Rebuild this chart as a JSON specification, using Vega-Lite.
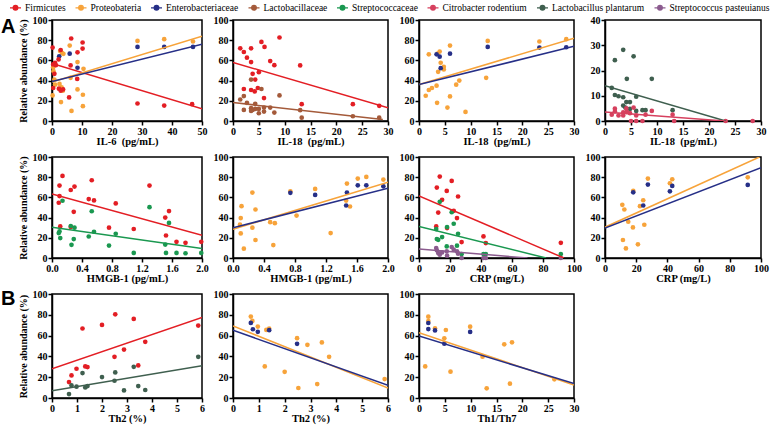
{
"$schema":"https://vega.github.io/schema/vega-lite/v6.json",
"padding":{"left":0,"top":1,"right":0,"bottom":0},
"background":"white",
"bounds":"flush",
"columns":4,
"spacing":{"row":36,"column":31},
"resolve":{"scale":{"color":"shared","x":"independent","y":"independent"},"legend":{"color":"shared"}},
"config":{
"view":{"stroke":"#000","strokeWidth":1.5},
"axis":{"domainColor":"#000","domainWidth":1.5,"tickColor":"#000","tickWidth":1.5,"tickSize":4,"grid":false,"labelFont":"Liberation Serif","labelFontWeight":"bold","labelFontSize":10,"labelColor":"#000","labelPadding":1,"titleFont":"Liberation Serif","titleFontWeight":"bold","titleFontSize":10.5,"titleColor":"#000"},
"axisX":{"labelFlush":false,"titlePadding":0},
"axisY":{"titlePadding":4,"titleFontSize":10},
"legend":{"labelFont":"Liberation Serif","labelFontSize":9.5,"labelColor":"#000","labelLimit":0}
},
"datasets":{
"pts":[
{"p":1,"s":"Proteobateria","x":28.5,"y":79.3},{"p":1,"s":"Proteobateria","x":37.4,"y":81},{"p":1,"s":"Proteobateria","x":47,"y":78.7},{"p":1,"s":"Proteobateria","x":5.9,"y":74.7},{"p":1,"s":"Proteobateria","x":2.7,"y":69.3},{"p":1,"s":"Proteobateria","x":3.3,"y":67.5},{"p":1,"s":"Proteobateria","x":3.8,"y":66.5},{"p":1,"s":"Proteobateria","x":8.5,"y":58.3},{"p":1,"s":"Proteobateria","x":0.4,"y":53.3},{"p":1,"s":"Proteobateria","x":10.5,"y":51.7},{"p":1,"s":"Proteobateria","x":0.5,"y":49.3},{"p":1,"s":"Proteobateria","x":0.8,"y":41},{"p":1,"s":"Proteobateria","x":6.2,"y":42.7},{"p":1,"s":"Proteobateria","x":1,"y":36},{"p":1,"s":"Proteobateria","x":2.5,"y":36.7},{"p":1,"s":"Proteobateria","x":3.2,"y":33.3},{"p":1,"s":"Proteobateria","x":3.6,"y":30},{"p":1,"s":"Proteobateria","x":8.5,"y":31.3},{"p":1,"s":"Proteobateria","x":0.2,"y":25.3},{"p":1,"s":"Proteobateria","x":10.3,"y":26},{"p":1,"s":"Proteobateria","x":3,"y":18.7},{"p":1,"s":"Proteobateria","x":10.3,"y":14.7},{"p":1,"s":"Proteobateria","x":6.5,"y":10},
{"p":1,"s":"Enterobacteriaceae","x":28.5,"y":73.3},{"p":1,"s":"Enterobacteriaceae","x":37.4,"y":73.3},{"p":1,"s":"Enterobacteriaceae","x":47,"y":73.3},{"p":1,"s":"Enterobacteriaceae","x":2.4,"y":64},{"p":1,"s":"Enterobacteriaceae","x":5.9,"y":66.7},{"p":1,"s":"Enterobacteriaceae","x":8.5,"y":52.7},
{"p":1,"s":"Firmicutes","x":0.2,"y":72.7},{"p":1,"s":"Firmicutes","x":6.4,"y":81.7},{"p":1,"s":"Firmicutes","x":10.2,"y":77.7},{"p":1,"s":"Firmicutes","x":10.2,"y":71.7},{"p":1,"s":"Firmicutes","x":2.9,"y":70.3},{"p":1,"s":"Firmicutes","x":8.5,"y":68},{"p":1,"s":"Firmicutes","x":2.2,"y":61},{"p":1,"s":"Firmicutes","x":1,"y":57.7},{"p":1,"s":"Firmicutes","x":0.4,"y":56},{"p":1,"s":"Firmicutes","x":1.3,"y":55.3},{"p":1,"s":"Firmicutes","x":6.2,"y":55},{"p":1,"s":"Firmicutes","x":0.8,"y":46.7},{"p":1,"s":"Firmicutes","x":8.4,"y":41.7},{"p":1,"s":"Firmicutes","x":2.3,"y":32},{"p":1,"s":"Firmicutes","x":3.7,"y":31.3},{"p":1,"s":"Firmicutes","x":0.4,"y":32.7},{"p":1,"s":"Firmicutes","x":2.9,"y":30},{"p":1,"s":"Firmicutes","x":5.7,"y":23.3},{"p":1,"s":"Firmicutes","x":28.5,"y":17.3},{"p":1,"s":"Firmicutes","x":37.4,"y":15.3},{"p":1,"s":"Firmicutes","x":46.7,"y":16.7},
{"p":2,"s":"Firmicutes","x":1.4,"y":72},{"p":2,"s":"Firmicutes","x":2.1,"y":68.3},{"p":2,"s":"Firmicutes","x":3.5,"y":72},{"p":2,"s":"Firmicutes","x":5.5,"y":78.3},{"p":2,"s":"Firmicutes","x":6.1,"y":73.3},{"p":2,"s":"Firmicutes","x":9,"y":82.7},{"p":2,"s":"Firmicutes","x":2.7,"y":62.7},{"p":2,"s":"Firmicutes","x":3.5,"y":58.3},{"p":2,"s":"Firmicutes","x":7.2,"y":59.3},{"p":2,"s":"Firmicutes","x":8,"y":55.3},{"p":2,"s":"Firmicutes","x":13,"y":55},{"p":2,"s":"Firmicutes","x":3.8,"y":46.7},{"p":2,"s":"Firmicutes","x":5,"y":48.3},{"p":2,"s":"Firmicutes","x":4.3,"y":41},{"p":2,"s":"Firmicutes","x":2.1,"y":31.7},{"p":2,"s":"Firmicutes","x":3.5,"y":30.7},{"p":2,"s":"Firmicutes","x":4.2,"y":29.3},{"p":2,"s":"Firmicutes","x":4.8,"y":32.7},{"p":2,"s":"Firmicutes","x":6,"y":22.7},{"p":2,"s":"Firmicutes","x":13.3,"y":16.7},{"p":2,"s":"Firmicutes","x":23.2,"y":16.7},{"p":2,"s":"Firmicutes","x":28.3,"y":15},
{"p":2,"s":"Lactobacillaceae","x":3.5,"y":41},{"p":2,"s":"Lactobacillaceae","x":5.5,"y":31.7},{"p":2,"s":"Lactobacillaceae","x":1.4,"y":21.3},{"p":2,"s":"Lactobacillaceae","x":2.1,"y":24.7},{"p":2,"s":"Lactobacillaceae","x":9,"y":25.3},{"p":2,"s":"Lactobacillaceae","x":2.7,"y":18},{"p":2,"s":"Lactobacillaceae","x":4.3,"y":17},{"p":2,"s":"Lactobacillaceae","x":2.1,"y":11},{"p":2,"s":"Lactobacillaceae","x":3.5,"y":12.7},{"p":2,"s":"Lactobacillaceae","x":3.8,"y":11},{"p":2,"s":"Lactobacillaceae","x":4.3,"y":12},{"p":2,"s":"Lactobacillaceae","x":5,"y":12},{"p":2,"s":"Lactobacillaceae","x":6,"y":13.3},{"p":2,"s":"Lactobacillaceae","x":7.2,"y":13.3},{"p":2,"s":"Lactobacillaceae","x":3.5,"y":10},{"p":2,"s":"Lactobacillaceae","x":5,"y":7.7},{"p":2,"s":"Lactobacillaceae","x":6,"y":9.3},{"p":2,"s":"Lactobacillaceae","x":8,"y":8.3},{"p":2,"s":"Lactobacillaceae","x":13,"y":10.7},{"p":2,"s":"Lactobacillaceae","x":13.3,"y":3.3},{"p":2,"s":"Lactobacillaceae","x":23.2,"y":4.7},{"p":2,"s":"Lactobacillaceae","x":28.3,"y":3.3},
{"p":3,"s":"Proteobateria","x":1.3,"y":25},{"p":3,"s":"Proteobateria","x":1.9,"y":66},{"p":3,"s":"Proteobateria","x":1.9,"y":30.7},{"p":3,"s":"Proteobateria","x":2.5,"y":32.7},{"p":3,"s":"Proteobateria","x":3.4,"y":35},{"p":3,"s":"Proteobateria","x":3.5,"y":18},{"p":3,"s":"Proteobateria","x":3.6,"y":66.7},{"p":3,"s":"Proteobateria","x":3.7,"y":48.7},{"p":3,"s":"Proteobateria","x":4,"y":68.7},{"p":3,"s":"Proteobateria","x":4.2,"y":57.7},{"p":3,"s":"Proteobateria","x":4.8,"y":53.7},{"p":3,"s":"Proteobateria","x":4.8,"y":51},{"p":3,"s":"Proteobateria","x":5.5,"y":13.3},{"p":3,"s":"Proteobateria","x":6,"y":74.7},{"p":3,"s":"Proteobateria","x":6,"y":24.3},{"p":3,"s":"Proteobateria","x":7.2,"y":36},{"p":3,"s":"Proteobateria","x":7.8,"y":40},{"p":3,"s":"Proteobateria","x":9,"y":9},{"p":3,"s":"Proteobateria","x":13,"y":42.7},{"p":3,"s":"Proteobateria","x":13.3,"y":79.3},{"p":3,"s":"Proteobateria","x":23.3,"y":78.7},{"p":3,"s":"Proteobateria","x":28.5,"y":81},
{"p":3,"s":"Enterobacteriaceae","x":3.4,"y":66},{"p":3,"s":"Enterobacteriaceae","x":4,"y":63.7},{"p":3,"s":"Enterobacteriaceae","x":4.2,"y":52.3},{"p":3,"s":"Enterobacteriaceae","x":6,"y":66.7},{"p":3,"s":"Enterobacteriaceae","x":13.3,"y":73.3},{"p":3,"s":"Enterobacteriaceae","x":23.3,"y":72.7},{"p":3,"s":"Enterobacteriaceae","x":28.5,"y":73},
{"p":4,"s":"Lactobacillus plantarum","x":3.5,"y":28.2},{"p":4,"s":"Lactobacillus plantarum","x":1.9,"y":24.1},{"p":4,"s":"Lactobacillus plantarum","x":5.5,"y":25.6},{"p":4,"s":"Lactobacillus plantarum","x":4.2,"y":16.7},{"p":4,"s":"Lactobacillus plantarum","x":9,"y":16.7},{"p":4,"s":"Lactobacillus plantarum","x":1.3,"y":13.1},{"p":4,"s":"Lactobacillus plantarum","x":1.9,"y":10.3},{"p":4,"s":"Lactobacillus plantarum","x":2.6,"y":9.8},{"p":4,"s":"Lactobacillus plantarum","x":3.5,"y":9.4},{"p":4,"s":"Lactobacillus plantarum","x":6,"y":9.6},{"p":4,"s":"Lactobacillus plantarum","x":4.1,"y":7.5},{"p":4,"s":"Lactobacillus plantarum","x":4.8,"y":7.5},{"p":4,"s":"Lactobacillus plantarum","x":3.5,"y":6.1},{"p":4,"s":"Lactobacillus plantarum","x":3.9,"y":5.3},{"p":4,"s":"Lactobacillus plantarum","x":6,"y":4},{"p":4,"s":"Lactobacillus plantarum","x":7.2,"y":4.3},{"p":4,"s":"Lactobacillus plantarum","x":7.8,"y":4.3},{"p":4,"s":"Lactobacillus plantarum","x":13,"y":4.3},{"p":4,"s":"Lactobacillus plantarum","x":4.8,"y":4.8},
{"p":4,"s":"Citrobacter rodentium","x":1.3,"y":2.5},{"p":4,"s":"Citrobacter rodentium","x":1.9,"y":4.9},{"p":4,"s":"Citrobacter rodentium","x":1.9,"y":3.8},{"p":4,"s":"Citrobacter rodentium","x":2.6,"y":2.2},{"p":4,"s":"Citrobacter rodentium","x":3.5,"y":3.4},{"p":4,"s":"Citrobacter rodentium","x":3.5,"y":2.2},{"p":4,"s":"Citrobacter rodentium","x":4.1,"y":5},{"p":4,"s":"Citrobacter rodentium","x":4.2,"y":3.6},{"p":4,"s":"Citrobacter rodentium","x":4.8,"y":3.1},{"p":4,"s":"Citrobacter rodentium","x":5,"y":0},{"p":4,"s":"Citrobacter rodentium","x":5.5,"y":5.3},{"p":4,"s":"Citrobacter rodentium","x":6,"y":2.2},{"p":4,"s":"Citrobacter rodentium","x":6,"y":0},{"p":4,"s":"Citrobacter rodentium","x":7.2,"y":0},{"p":4,"s":"Citrobacter rodentium","x":7.8,"y":2.5},{"p":4,"s":"Citrobacter rodentium","x":9,"y":4},{"p":4,"s":"Citrobacter rodentium","x":13,"y":2.5},{"p":4,"s":"Citrobacter rodentium","x":13.3,"y":0},{"p":4,"s":"Citrobacter rodentium","x":23.2,"y":0},{"p":4,"s":"Citrobacter rodentium","x":28.4,"y":0},
{"p":5,"s":"Firmicutes","x":0.14,"y":81.3},{"p":5,"s":"Firmicutes","x":0.1,"y":71.7},{"p":5,"s":"Firmicutes","x":0.1,"y":61.3},{"p":5,"s":"Firmicutes","x":0.09,"y":54.7},{"p":5,"s":"Firmicutes","x":0.25,"y":67.3},{"p":5,"s":"Firmicutes","x":0.3,"y":70.7},{"p":5,"s":"Firmicutes","x":0.29,"y":45.7},{"p":5,"s":"Firmicutes","x":0.11,"y":31.3},{"p":5,"s":"Firmicutes","x":0.25,"y":30.7},{"p":5,"s":"Firmicutes","x":0.53,"y":77},{"p":5,"s":"Firmicutes","x":0.49,"y":58.3},{"p":5,"s":"Firmicutes","x":0.56,"y":57},{"p":5,"s":"Firmicutes","x":0.85,"y":54},{"p":5,"s":"Firmicutes","x":0.76,"y":30},{"p":5,"s":"Firmicutes","x":1.09,"y":28.7},{"p":5,"s":"Firmicutes","x":1.3,"y":71.7},{"p":5,"s":"Firmicutes","x":1.51,"y":40},{"p":5,"s":"Firmicutes","x":1.56,"y":46.5},{"p":5,"s":"Firmicutes","x":1.52,"y":22.3},{"p":5,"s":"Firmicutes","x":1.66,"y":16},{"p":5,"s":"Firmicutes","x":1.78,"y":15},{"p":5,"s":"Firmicutes","x":1.99,"y":16},
{"p":5,"s":"Streptococcaceae","x":0.14,"y":56.7},{"p":5,"s":"Streptococcaceae","x":0.1,"y":26.3},{"p":5,"s":"Streptococcaceae","x":0.09,"y":24.7},{"p":5,"s":"Streptococcaceae","x":0.11,"y":19.7},{"p":5,"s":"Streptococcaceae","x":0.25,"y":31.7},{"p":5,"s":"Streptococcaceae","x":0.3,"y":30},{"p":5,"s":"Streptococcaceae","x":0.29,"y":18.7},{"p":5,"s":"Streptococcaceae","x":0.26,"y":13},{"p":5,"s":"Streptococcaceae","x":0.49,"y":21.3},{"p":5,"s":"Streptococcaceae","x":0.53,"y":46.3},{"p":5,"s":"Streptococcaceae","x":0.56,"y":26},{"p":5,"s":"Streptococcaceae","x":0.76,"y":12.3},{"p":5,"s":"Streptococcaceae","x":0.85,"y":24},{"p":5,"s":"Streptococcaceae","x":1.09,"y":5},{"p":5,"s":"Streptococcaceae","x":1.3,"y":50.3},{"p":5,"s":"Streptococcaceae","x":1.51,"y":13.3},{"p":5,"s":"Streptococcaceae","x":1.56,"y":34.7},{"p":5,"s":"Streptococcaceae","x":1.52,"y":5},{"p":5,"s":"Streptococcaceae","x":1.66,"y":5},{"p":5,"s":"Streptococcaceae","x":1.78,"y":4.7},{"p":5,"s":"Streptococcaceae","x":1.99,"y":5},
{"p":6,"s":"Proteobateria","x":0.1,"y":39.5},{"p":6,"s":"Proteobateria","x":0.09,"y":33},{"p":6,"s":"Proteobateria","x":0.1,"y":24.3},{"p":6,"s":"Proteobateria","x":0.11,"y":51.3},{"p":6,"s":"Proteobateria","x":0.14,"y":9.2},{"p":6,"s":"Proteobateria","x":0.25,"y":64.8},{"p":6,"s":"Proteobateria","x":0.25,"y":30},{"p":6,"s":"Proteobateria","x":0.29,"y":48},{"p":6,"s":"Proteobateria","x":0.29,"y":17.8},{"p":6,"s":"Proteobateria","x":0.48,"y":35.5},{"p":6,"s":"Proteobateria","x":0.52,"y":12.8},{"p":6,"s":"Proteobateria","x":0.54,"y":34.5},{"p":6,"s":"Proteobateria","x":0.74,"y":66},{"p":6,"s":"Proteobateria","x":0.82,"y":42},{"p":6,"s":"Proteobateria","x":1.06,"y":68.4},{"p":6,"s":"Proteobateria","x":1.26,"y":24.7},{"p":6,"s":"Proteobateria","x":1.46,"y":56.9},{"p":6,"s":"Proteobateria","x":1.47,"y":73.7},{"p":6,"s":"Proteobateria","x":1.51,"y":51},{"p":6,"s":"Proteobateria","x":1.61,"y":78.6},{"p":6,"s":"Proteobateria","x":1.72,"y":80.3},{"p":6,"s":"Proteobateria","x":1.94,"y":77.6},
{"p":6,"s":"Enterobacteriaceae","x":0.74,"y":64.5},{"p":6,"s":"Enterobacteriaceae","x":1.06,"y":62.5},{"p":6,"s":"Enterobacteriaceae","x":1.47,"y":64.8},{"p":6,"s":"Enterobacteriaceae","x":1.46,"y":52},{"p":6,"s":"Enterobacteriaceae","x":1.61,"y":72},{"p":6,"s":"Enterobacteriaceae","x":1.72,"y":72},{"p":6,"s":"Enterobacteriaceae","x":1.94,"y":71},
{"p":7,"s":"Firmicutes","x":13.4,"y":80.6},{"p":7,"s":"Firmicutes","x":21.1,"y":76.3},{"p":7,"s":"Firmicutes","x":11.5,"y":69.7},{"p":7,"s":"Firmicutes","x":17.9,"y":66.4},{"p":7,"s":"Firmicutes","x":25.2,"y":60.9},{"p":7,"s":"Firmicutes","x":14.9,"y":57.6},{"p":7,"s":"Firmicutes","x":12.4,"y":45},{"p":7,"s":"Firmicutes","x":22.4,"y":46.7},{"p":7,"s":"Firmicutes","x":24.5,"y":39.5},{"p":7,"s":"Firmicutes","x":11.1,"y":31.3},{"p":7,"s":"Firmicutes","x":18.1,"y":29.6},{"p":7,"s":"Firmicutes","x":41.6,"y":21.4},{"p":7,"s":"Firmicutes","x":27.5,"y":15.8},{"p":7,"s":"Firmicutes","x":43.1,"y":14.8},{"p":7,"s":"Firmicutes","x":91.5,"y":15},
{"p":7,"s":"Streptococcaceae","x":13.4,"y":55.6},{"p":7,"s":"Streptococcaceae","x":21.1,"y":45.4},{"p":7,"s":"Streptococcaceae","x":22.4,"y":33.9},{"p":7,"s":"Streptococcaceae","x":25.2,"y":24},{"p":7,"s":"Streptococcaceae","x":11.1,"y":28.6},{"p":7,"s":"Streptococcaceae","x":18.1,"y":30.6},{"p":7,"s":"Streptococcaceae","x":11.5,"y":18.8},{"p":7,"s":"Streptococcaceae","x":12.4,"y":18},{"p":7,"s":"Streptococcaceae","x":14.9,"y":20.7},{"p":7,"s":"Streptococcaceae","x":17.9,"y":11.5},{"p":7,"s":"Streptococcaceae","x":24.5,"y":12.2},{"p":7,"s":"Streptococcaceae","x":27.5,"y":3.9},{"p":7,"s":"Streptococcaceae","x":41.6,"y":3.9},{"p":7,"s":"Streptococcaceae","x":43.1,"y":3.9},{"p":7,"s":"Streptococcaceae","x":91.5,"y":3.9},
{"p":7,"s":"Streptococcus pasteuianus","x":11.1,"y":9.9},{"p":7,"s":"Streptococcus pasteuianus","x":11.5,"y":7.6},{"p":7,"s":"Streptococcus pasteuianus","x":12.4,"y":4.9},{"p":7,"s":"Streptococcus pasteuianus","x":13.4,"y":3.3},{"p":7,"s":"Streptococcus pasteuianus","x":14.9,"y":5.5},{"p":7,"s":"Streptococcus pasteuianus","x":17.9,"y":6.6},{"p":7,"s":"Streptococcus pasteuianus","x":18.1,"y":2.3},{"p":7,"s":"Streptococcus pasteuianus","x":21.1,"y":10.9},{"p":7,"s":"Streptococcus pasteuianus","x":22.4,"y":8.2},{"p":7,"s":"Streptococcus pasteuianus","x":24.5,"y":6.6},{"p":7,"s":"Streptococcus pasteuianus","x":25.2,"y":4.3},{"p":7,"s":"Streptococcus pasteuianus","x":27.5,"y":0},{"p":7,"s":"Streptococcus pasteuianus","x":41.6,"y":0},{"p":7,"s":"Streptococcus pasteuianus","x":43.1,"y":0},{"p":7,"s":"Streptococcus pasteuianus","x":91.5,"y":0},
{"p":8,"s":"Proteobateria","x":11.1,"y":52.6},{"p":8,"s":"Proteobateria","x":12.4,"y":48},{"p":8,"s":"Proteobateria","x":11.5,"y":17.8},{"p":8,"s":"Proteobateria","x":13.4,"y":9.5},{"p":8,"s":"Proteobateria","x":14.9,"y":35.9},{"p":8,"s":"Proteobateria","x":17.9,"y":30.3},{"p":8,"s":"Proteobateria","x":18.1,"y":66.4},{"p":8,"s":"Proteobateria","x":21.1,"y":13.5},{"p":8,"s":"Proteobateria","x":22.4,"y":51.3},{"p":8,"s":"Proteobateria","x":24.5,"y":57.2},{"p":8,"s":"Proteobateria","x":25.2,"y":32.9},{"p":8,"s":"Proteobateria","x":27.5,"y":78.6},{"p":8,"s":"Proteobateria","x":41.6,"y":74},{"p":8,"s":"Proteobateria","x":43.1,"y":78},{"p":8,"s":"Proteobateria","x":91.5,"y":79.9},
{"p":8,"s":"Enterobacteriaceae","x":18.1,"y":65},{"p":8,"s":"Enterobacteriaceae","x":24.5,"y":52},{"p":8,"s":"Enterobacteriaceae","x":27.5,"y":72.7},{"p":8,"s":"Enterobacteriaceae","x":41.6,"y":66},{"p":8,"s":"Enterobacteriaceae","x":43.1,"y":71.4},{"p":8,"s":"Enterobacteriaceae","x":91.5,"y":72.4},
{"p":9,"s":"Firmicutes","x":2.53,"y":80.5},{"p":9,"s":"Firmicutes","x":3.27,"y":76},{"p":9,"s":"Firmicutes","x":1.22,"y":66.8},{"p":9,"s":"Firmicutes","x":2.0,"y":70.3},{"p":9,"s":"Firmicutes","x":3.73,"y":54},{"p":9,"s":"Firmicutes","x":2.88,"y":46.6},{"p":9,"s":"Firmicutes","x":2.5,"y":39.6},{"p":9,"s":"Firmicutes","x":1.33,"y":30.4},{"p":9,"s":"Firmicutes","x":1.42,"y":29.7},{"p":9,"s":"Firmicutes","x":3.45,"y":31.3},{"p":9,"s":"Firmicutes","x":0.68,"y":15.3},{"p":9,"s":"Firmicutes","x":0.78,"y":21.7},{"p":9,"s":"Firmicutes","x":0.98,"y":28.1},{"p":9,"s":"Firmicutes","x":5.85,"y":69.6},
{"p":9,"s":"Lactobacillus plantarum","x":1.22,"y":24},{"p":9,"s":"Lactobacillus plantarum","x":2.0,"y":20.1},{"p":9,"s":"Lactobacillus plantarum","x":2.53,"y":24.6},{"p":9,"s":"Lactobacillus plantarum","x":2.5,"y":16.6},{"p":9,"s":"Lactobacillus plantarum","x":3.27,"y":30},{"p":9,"s":"Lactobacillus plantarum","x":0.78,"y":12.1},{"p":9,"s":"Lactobacillus plantarum","x":0.98,"y":10.9},{"p":9,"s":"Lactobacillus plantarum","x":1.33,"y":10.2},{"p":9,"s":"Lactobacillus plantarum","x":1.42,"y":11.5},{"p":9,"s":"Lactobacillus plantarum","x":0.68,"y":3.8},{"p":9,"s":"Lactobacillus plantarum","x":2.88,"y":7.3},{"p":9,"s":"Lactobacillus plantarum","x":3.45,"y":11.5},{"p":9,"s":"Lactobacillus plantarum","x":3.73,"y":7.7},{"p":9,"s":"Lactobacillus plantarum","x":5.85,"y":39.6},
{"p":10,"s":"Proteobateria","x":0.69,"y":78.3},{"p":10,"s":"Proteobateria","x":0.75,"y":74.1},{"p":10,"s":"Proteobateria","x":0.96,"y":68.7},{"p":10,"s":"Proteobateria","x":1.29,"y":65.5},{"p":10,"s":"Proteobateria","x":1.4,"y":66.8},{"p":10,"s":"Proteobateria","x":1.23,"y":30.4},{"p":10,"s":"Proteobateria","x":2.0,"y":25.2},{"p":10,"s":"Proteobateria","x":2.48,"y":57.5},{"p":10,"s":"Proteobateria","x":2.53,"y":9.6},{"p":10,"s":"Proteobateria","x":2.88,"y":51.1},{"p":10,"s":"Proteobateria","x":3.26,"y":13.4},{"p":10,"s":"Proteobateria","x":3.44,"y":53.4},{"p":10,"s":"Proteobateria","x":3.72,"y":39.6},{"p":10,"s":"Proteobateria","x":5.87,"y":18.2},
{"p":10,"s":"Enterobacteriaceae","x":0.69,"y":72.2},{"p":10,"s":"Enterobacteriaceae","x":0.77,"y":66.1},{"p":10,"s":"Enterobacteriaceae","x":0.96,"y":63.6},{"p":10,"s":"Enterobacteriaceae","x":1.4,"y":65.2},{"p":10,"s":"Enterobacteriaceae","x":2.48,"y":52.1},
{"p":11,"s":"Proteobateria","x":1.8,"y":78.2},{"p":11,"s":"Proteobateria","x":1.8,"y":74},{"p":11,"s":"Proteobateria","x":3.1,"y":67},{"p":11,"s":"Proteobateria","x":5.2,"y":65.4},{"p":11,"s":"Proteobateria","x":4.9,"y":57.4},{"p":11,"s":"Proteobateria","x":9.9,"y":68.6},{"p":11,"s":"Proteobateria","x":1.2,"y":30.4},{"p":11,"s":"Proteobateria","x":6.1,"y":25.3},{"p":11,"s":"Proteobateria","x":12.3,"y":39.7},{"p":11,"s":"Proteobateria","x":13.1,"y":9.3},{"p":11,"s":"Proteobateria","x":16.5,"y":51.6},{"p":11,"s":"Proteobateria","x":18,"y":53.5},{"p":11,"s":"Proteobateria","x":17.6,"y":13.8},{"p":11,"s":"Proteobateria","x":26.2,"y":18},
{"p":11,"s":"Enterobacteriaceae","x":1.8,"y":72.1},{"p":11,"s":"Enterobacteriaceae","x":1.8,"y":66.3},{"p":11,"s":"Enterobacteriaceae","x":3.1,"y":65},{"p":11,"s":"Enterobacteriaceae","x":4.9,"y":52.2},{"p":11,"s":"Enterobacteriaceae","x":9.9,"y":63.5}
],
"lns":[
{"p":1,"s":"Firmicutes","x":0,"y":57},{"p":1,"s":"Firmicutes","x":50,"y":12},{"p":1,"s":"Proteobateria","x":0,"y":38.5},{"p":1,"s":"Proteobateria","x":50,"y":84},{"p":1,"s":"Enterobacteriaceae","x":0,"y":39},{"p":1,"s":"Enterobacteriaceae","x":50,"y":76},
{"p":2,"s":"Firmicutes","x":0,"y":58},{"p":2,"s":"Firmicutes","x":30,"y":13},{"p":2,"s":"Lactobacillaceae","x":0,"y":18.3},{"p":2,"s":"Lactobacillaceae","x":29,"y":1.5},
{"p":3,"s":"Proteobateria","x":0,"y":36},{"p":3,"s":"Proteobateria","x":30,"y":82},{"p":3,"s":"Enterobacteriaceae","x":0,"y":36},{"p":3,"s":"Enterobacteriaceae","x":30,"y":74},
{"p":4,"s":"Lactobacillus plantarum","x":0,"y":14},{"p":4,"s":"Lactobacillus plantarum","x":23.2,"y":0},{"p":4,"s":"Citrobacter rodentium","x":0,"y":3.6},{"p":4,"s":"Citrobacter rodentium","x":23,"y":0},
{"p":5,"s":"Firmicutes","x":0,"y":63.5},{"p":5,"s":"Firmicutes","x":2,"y":22.5},{"p":5,"s":"Streptococcaceae","x":0,"y":30.5},{"p":5,"s":"Streptococcaceae","x":2,"y":9.5},
{"p":6,"s":"Proteobateria","x":0,"y":28.5},{"p":6,"s":"Proteobateria","x":2,"y":75},{"p":6,"s":"Enterobacteriaceae","x":0,"y":30},{"p":6,"s":"Enterobacteriaceae","x":2,"y":69},
{"p":7,"s":"Firmicutes","x":0,"y":61.5},{"p":7,"s":"Firmicutes","x":93.5,"y":0},{"p":7,"s":"Streptococcaceae","x":0,"y":31.3},{"p":7,"s":"Streptococcaceae","x":82,"y":0},{"p":7,"s":"Streptococcus pasteuianus","x":0,"y":8.9},{"p":7,"s":"Streptococcus pasteuianus","x":70,"y":0},
{"p":8,"s":"Proteobateria","x":0,"y":30.5},{"p":8,"s":"Proteobateria","x":99,"y":100},{"p":8,"s":"Enterobacteriaceae","x":0,"y":29.6},{"p":8,"s":"Enterobacteriaceae","x":100,"y":89.5},
{"p":9,"s":"Firmicutes","x":0,"y":28},{"p":9,"s":"Firmicutes","x":6,"y":77.5},{"p":9,"s":"Lactobacillus plantarum","x":0,"y":7},{"p":9,"s":"Lactobacillus plantarum","x":6,"y":31},
{"p":10,"s":"Proteobateria","x":0,"y":69.3},{"p":10,"s":"Proteobateria","x":6,"y":9.6},{"p":10,"s":"Enterobacteriaceae","x":0,"y":65.2},{"p":10,"s":"Enterobacteriaceae","x":6,"y":12.1},
{"p":11,"s":"Proteobateria","x":0,"y":62.8},{"p":11,"s":"Proteobateria","x":30,"y":12.5},{"p":11,"s":"Enterobacteriaceae","x":0,"y":59.6},{"p":11,"s":"Enterobacteriaceae","x":30,"y":13.8}
]
},
"concat":[
{"width":150,"height":101,
"title":{"text":"A","anchor":"start","frame":"group","align":"left","baseline":"alphabetic","dx":-51,"dy":38,"offset":0,"font":"Liberation Sans","fontSize":20,"fontWeight":"bold","color":"#000"},
"layer":[
{"data":{"name":"pts"},"transform":[{"filter":"datum.p==1"}],"mark":{"type":"circle","size":22,"opacity":1},
"encoding":{"x":{"field":"x","type":"quantitative","scale":{"domain":[0,50]},"axis":{"values":[0,10,20,30,40,50],"title":"IL-6\u00a0 (pg/mL)"}},"y":{"field":"y","type":"quantitative","scale":{"domain":[0,100]},"axis":{"values":[0,20,40,60,80,100],"title":"Relative abundance (%)"}},
"color":{"field":"s","type":"nominal","scale":{"domain":["Firmicutes","Proteobateria","Enterobacteriaceae","Lactobacillaceae","Streptococcaceae","Citrobacter rodentium","Lactobacillus plantarum","Streptococcus pasteuianus"],"range":["#e31e24","#f7a33a","#262f87","#a45a3a","#1a9850","#d6405e","#3f5f4f","#8b5b8e"]},
"legend":{"title":null,"orient":"none","legendX":-43,"legendY":-19,"direction":"horizontal","columns":8,"columnPadding":6.5,"labelOffset":3,"labelFont":"Liberation Serif","labelFontSize":9.5,"labelColor":"#000","labelLimit":0,"symbolType":"M-1,0L1,0M-0.42,0A0.42,0.42,0,1,0,0.42,0A0.42,0.42,0,1,0,-0.42,0Z","symbolSize":121,"symbolStrokeWidth":1.3,
"encode":{"symbols":{"shape":{"value":"M-1,0L1,0M-0.42,0A0.42,0.42,0,1,0,0.42,0A0.42,0.42,0,1,0,-0.42,0Z"},"size":{"value":121},"strokeWidth":{"value":1.3},"stroke":{"scale":"color","field":"value"},"fill":{"scale":"color","field":"value"},"opacity":{"value":1}},"labels":{"font":{"value":"Liberation Serif"},"fontSize":{"value":9.5},"fill":{"value":"#000"},"fontStyle":{"signal":"indexof(['Citrobacter rodentium','Lactobacillus plantarum','Streptococcus pasteuianus'], datum.value) >= 0 ? 'italic' : 'normal'"}}}}}}},
{"data":{"name":"lns"},"transform":[{"filter":"datum.p==1"}],"mark":{"type":"line","strokeWidth":1.5,"clip":true},
"encoding":{"x":{"field":"x","type":"quantitative","scale":{"domain":[0,50]},"axis":{"values":[0,10,20,30,40,50],"title":"IL-6\u00a0 (pg/mL)"}},"y":{"field":"y","type":"quantitative","scale":{"domain":[0,100]},"axis":{"values":[0,20,40,60,80,100],"title":"Relative abundance (%)"}},
"color":{"field":"s","type":"nominal","scale":{"domain":["Firmicutes","Proteobateria","Enterobacteriaceae","Lactobacillaceae","Streptococcaceae","Citrobacter rodentium","Lactobacillus plantarum","Streptococcus pasteuianus"],"range":["#e31e24","#f7a33a","#262f87","#a45a3a","#1a9850","#d6405e","#3f5f4f","#8b5b8e"]},"legend":null}}}
]},
{"width":155,"height":101,"layer":[
{"data":{"name":"pts"},"transform":[{"filter":"datum.p==2"}],"mark":{"type":"circle","size":22,"opacity":1},
"encoding":{"x":{"field":"x","type":"quantitative","scale":{"domain":[0,30]},"axis":{"values":[0,5,10,15,20,25,30],"title":"IL-18\u00a0 (pg/mL)"}},"y":{"field":"y","type":"quantitative","scale":{"domain":[0,100]},"axis":{"values":[0,20,40,60,80,100],"title":null}},
"color":{"field":"s","type":"nominal","scale":{"domain":["Firmicutes","Proteobateria","Enterobacteriaceae","Lactobacillaceae","Streptococcaceae","Citrobacter rodentium","Lactobacillus plantarum","Streptococcus pasteuianus"],"range":["#e31e24","#f7a33a","#262f87","#a45a3a","#1a9850","#d6405e","#3f5f4f","#8b5b8e"]},"legend":null}}},
{"data":{"name":"lns"},"transform":[{"filter":"datum.p==2"}],"mark":{"type":"line","strokeWidth":1.5,"clip":true},
"encoding":{"x":{"field":"x","type":"quantitative","scale":{"domain":[0,30]},"axis":{"values":[0,5,10,15,20,25,30],"title":"IL-18\u00a0 (pg/mL)"}},"y":{"field":"y","type":"quantitative","scale":{"domain":[0,100]},"axis":{"values":[0,20,40,60,80,100],"title":null}},
"color":{"field":"s","type":"nominal","scale":{"domain":["Firmicutes","Proteobateria","Enterobacteriaceae","Lactobacillaceae","Streptococcaceae","Citrobacter rodentium","Lactobacillus plantarum","Streptococcus pasteuianus"],"range":["#e31e24","#f7a33a","#262f87","#a45a3a","#1a9850","#d6405e","#3f5f4f","#8b5b8e"]},"legend":null}}}
]},
{"width":155,"height":101,"layer":[
{"data":{"name":"pts"},"transform":[{"filter":"datum.p==3"}],"mark":{"type":"circle","size":22,"opacity":1},
"encoding":{"x":{"field":"x","type":"quantitative","scale":{"domain":[0,30]},"axis":{"values":[0,5,10,15,20,25,30],"title":"IL-18\u00a0 (pg/mL)"}},"y":{"field":"y","type":"quantitative","scale":{"domain":[0,100]},"axis":{"values":[0,20,40,60,80,100],"title":null}},
"color":{"field":"s","type":"nominal","scale":{"domain":["Firmicutes","Proteobateria","Enterobacteriaceae","Lactobacillaceae","Streptococcaceae","Citrobacter rodentium","Lactobacillus plantarum","Streptococcus pasteuianus"],"range":["#e31e24","#f7a33a","#262f87","#a45a3a","#1a9850","#d6405e","#3f5f4f","#8b5b8e"]},"legend":null}}},
{"data":{"name":"lns"},"transform":[{"filter":"datum.p==3"}],"mark":{"type":"line","strokeWidth":1.5,"clip":true},
"encoding":{"x":{"field":"x","type":"quantitative","scale":{"domain":[0,30]},"axis":{"values":[0,5,10,15,20,25,30],"title":"IL-18\u00a0 (pg/mL)"}},"y":{"field":"y","type":"quantitative","scale":{"domain":[0,100]},"axis":{"values":[0,20,40,60,80,100],"title":null}},
"color":{"field":"s","type":"nominal","scale":{"domain":["Firmicutes","Proteobateria","Enterobacteriaceae","Lactobacillaceae","Streptococcaceae","Citrobacter rodentium","Lactobacillus plantarum","Streptococcus pasteuianus"],"range":["#e31e24","#f7a33a","#262f87","#a45a3a","#1a9850","#d6405e","#3f5f4f","#8b5b8e"]},"legend":null}}}
]},
{"width":156,"height":101,"layer":[
{"data":{"name":"pts"},"transform":[{"filter":"datum.p==4"}],"mark":{"type":"circle","size":22,"opacity":1},
"encoding":{"x":{"field":"x","type":"quantitative","scale":{"domain":[0,30]},"axis":{"values":[0,5,10,15,20,25,30],"title":"IL-18\u00a0 (pg/mL)"}},"y":{"field":"y","type":"quantitative","scale":{"domain":[0,40]},"axis":{"values":[0,10,20,30,40],"title":null}},
"color":{"field":"s","type":"nominal","scale":{"domain":["Firmicutes","Proteobateria","Enterobacteriaceae","Lactobacillaceae","Streptococcaceae","Citrobacter rodentium","Lactobacillus plantarum","Streptococcus pasteuianus"],"range":["#e31e24","#f7a33a","#262f87","#a45a3a","#1a9850","#d6405e","#3f5f4f","#8b5b8e"]},"legend":null}}},
{"data":{"name":"lns"},"transform":[{"filter":"datum.p==4"}],"mark":{"type":"line","strokeWidth":1.5,"clip":true},
"encoding":{"x":{"field":"x","type":"quantitative","scale":{"domain":[0,30]},"axis":{"values":[0,5,10,15,20,25,30],"title":"IL-18\u00a0 (pg/mL)"}},"y":{"field":"y","type":"quantitative","scale":{"domain":[0,40]},"axis":{"values":[0,10,20,30,40],"title":null}},
"color":{"field":"s","type":"nominal","scale":{"domain":["Firmicutes","Proteobateria","Enterobacteriaceae","Lactobacillaceae","Streptococcaceae","Citrobacter rodentium","Lactobacillus plantarum","Streptococcus pasteuianus"],"range":["#e31e24","#f7a33a","#262f87","#a45a3a","#1a9850","#d6405e","#3f5f4f","#8b5b8e"]},"legend":null}}}
]},
{"width":150,"height":101,"layer":[
{"data":{"name":"pts"},"transform":[{"filter":"datum.p==5"}],"mark":{"type":"circle","size":22,"opacity":1},
"encoding":{"x":{"field":"x","type":"quantitative","scale":{"domain":[0,2]},"axis":{"values":[0,0.4,0.8,1.2,1.6,2],"format":".1f","title":"HMGB-1 (pg/mL)"}},"y":{"field":"y","type":"quantitative","scale":{"domain":[0,100]},"axis":{"values":[0,20,40,60,80,100],"title":"Relative abundance (%)"}},
"color":{"field":"s","type":"nominal","scale":{"domain":["Firmicutes","Proteobateria","Enterobacteriaceae","Lactobacillaceae","Streptococcaceae","Citrobacter rodentium","Lactobacillus plantarum","Streptococcus pasteuianus"],"range":["#e31e24","#f7a33a","#262f87","#a45a3a","#1a9850","#d6405e","#3f5f4f","#8b5b8e"]},"legend":null}}},
{"data":{"name":"lns"},"transform":[{"filter":"datum.p==5"}],"mark":{"type":"line","strokeWidth":1.5,"clip":true},
"encoding":{"x":{"field":"x","type":"quantitative","scale":{"domain":[0,2]},"axis":{"values":[0,0.4,0.8,1.2,1.6,2],"format":".1f","title":"HMGB-1 (pg/mL)"}},"y":{"field":"y","type":"quantitative","scale":{"domain":[0,100]},"axis":{"values":[0,20,40,60,80,100],"title":"Relative abundance (%)"}},
"color":{"field":"s","type":"nominal","scale":{"domain":["Firmicutes","Proteobateria","Enterobacteriaceae","Lactobacillaceae","Streptococcaceae","Citrobacter rodentium","Lactobacillus plantarum","Streptococcus pasteuianus"],"range":["#e31e24","#f7a33a","#262f87","#a45a3a","#1a9850","#d6405e","#3f5f4f","#8b5b8e"]},"legend":null}}}
]},
{"width":155,"height":101,"layer":[
{"data":{"name":"pts"},"transform":[{"filter":"datum.p==6"}],"mark":{"type":"circle","size":22,"opacity":1},
"encoding":{"x":{"field":"x","type":"quantitative","scale":{"domain":[0,2]},"axis":{"values":[0,0.4,0.8,1.2,1.6,2],"format":".1f","title":"HMGB-1 (pg/mL)"}},"y":{"field":"y","type":"quantitative","scale":{"domain":[0,100]},"axis":{"values":[0,20,40,60,80,100],"title":null}},
"color":{"field":"s","type":"nominal","scale":{"domain":["Firmicutes","Proteobateria","Enterobacteriaceae","Lactobacillaceae","Streptococcaceae","Citrobacter rodentium","Lactobacillus plantarum","Streptococcus pasteuianus"],"range":["#e31e24","#f7a33a","#262f87","#a45a3a","#1a9850","#d6405e","#3f5f4f","#8b5b8e"]},"legend":null}}},
{"data":{"name":"lns"},"transform":[{"filter":"datum.p==6"}],"mark":{"type":"line","strokeWidth":1.5,"clip":true},
"encoding":{"x":{"field":"x","type":"quantitative","scale":{"domain":[0,2]},"axis":{"values":[0,0.4,0.8,1.2,1.6,2],"format":".1f","title":"HMGB-1 (pg/mL)"}},"y":{"field":"y","type":"quantitative","scale":{"domain":[0,100]},"axis":{"values":[0,20,40,60,80,100],"title":null}},
"color":{"field":"s","type":"nominal","scale":{"domain":["Firmicutes","Proteobateria","Enterobacteriaceae","Lactobacillaceae","Streptococcaceae","Citrobacter rodentium","Lactobacillus plantarum","Streptococcus pasteuianus"],"range":["#e31e24","#f7a33a","#262f87","#a45a3a","#1a9850","#d6405e","#3f5f4f","#8b5b8e"]},"legend":null}}}
]},
{"width":155,"height":101,"layer":[
{"data":{"name":"pts"},"transform":[{"filter":"datum.p==7"}],"mark":{"type":"circle","size":22,"opacity":1},
"encoding":{"x":{"field":"x","type":"quantitative","scale":{"domain":[0,100]},"axis":{"values":[0,20,40,60,80,100],"title":"CRP (mg/L)"}},"y":{"field":"y","type":"quantitative","scale":{"domain":[0,100]},"axis":{"values":[0,20,40,60,80,100],"title":null}},
"color":{"field":"s","type":"nominal","scale":{"domain":["Firmicutes","Proteobateria","Enterobacteriaceae","Lactobacillaceae","Streptococcaceae","Citrobacter rodentium","Lactobacillus plantarum","Streptococcus pasteuianus"],"range":["#e31e24","#f7a33a","#262f87","#a45a3a","#1a9850","#d6405e","#3f5f4f","#8b5b8e"]},"legend":null}}},
{"data":{"name":"lns"},"transform":[{"filter":"datum.p==7"}],"mark":{"type":"line","strokeWidth":1.5,"clip":true},
"encoding":{"x":{"field":"x","type":"quantitative","scale":{"domain":[0,100]},"axis":{"values":[0,20,40,60,80,100],"title":"CRP (mg/L)"}},"y":{"field":"y","type":"quantitative","scale":{"domain":[0,100]},"axis":{"values":[0,20,40,60,80,100],"title":null}},
"color":{"field":"s","type":"nominal","scale":{"domain":["Firmicutes","Proteobateria","Enterobacteriaceae","Lactobacillaceae","Streptococcaceae","Citrobacter rodentium","Lactobacillus plantarum","Streptococcus pasteuianus"],"range":["#e31e24","#f7a33a","#262f87","#a45a3a","#1a9850","#d6405e","#3f5f4f","#8b5b8e"]},"legend":null}}}
]},
{"width":156,"height":101,"layer":[
{"data":{"name":"pts"},"transform":[{"filter":"datum.p==8"}],"mark":{"type":"circle","size":22,"opacity":1},
"encoding":{"x":{"field":"x","type":"quantitative","scale":{"domain":[0,100]},"axis":{"values":[0,20,40,60,80,100],"title":"CRP (mg/L)"}},"y":{"field":"y","type":"quantitative","scale":{"domain":[0,100]},"axis":{"values":[0,20,40,60,80,100],"title":null}},
"color":{"field":"s","type":"nominal","scale":{"domain":["Firmicutes","Proteobateria","Enterobacteriaceae","Lactobacillaceae","Streptococcaceae","Citrobacter rodentium","Lactobacillus plantarum","Streptococcus pasteuianus"],"range":["#e31e24","#f7a33a","#262f87","#a45a3a","#1a9850","#d6405e","#3f5f4f","#8b5b8e"]},"legend":null}}},
{"data":{"name":"lns"},"transform":[{"filter":"datum.p==8"}],"mark":{"type":"line","strokeWidth":1.5,"clip":true},
"encoding":{"x":{"field":"x","type":"quantitative","scale":{"domain":[0,100]},"axis":{"values":[0,20,40,60,80,100],"title":"CRP (mg/L)"}},"y":{"field":"y","type":"quantitative","scale":{"domain":[0,100]},"axis":{"values":[0,20,40,60,80,100],"title":null}},
"color":{"field":"s","type":"nominal","scale":{"domain":["Firmicutes","Proteobateria","Enterobacteriaceae","Lactobacillaceae","Streptococcaceae","Citrobacter rodentium","Lactobacillus plantarum","Streptococcus pasteuianus"],"range":["#e31e24","#f7a33a","#262f87","#a45a3a","#1a9850","#d6405e","#3f5f4f","#8b5b8e"]},"legend":null}}}
]},
{"width":150,"height":104,
"title":{"text":"B","anchor":"start","frame":"group","align":"left","baseline":"alphabetic","dx":-51,"dy":36,"offset":0,"font":"Liberation Sans","fontSize":20,"fontWeight":"bold","color":"#000"},
"layer":[
{"data":{"name":"pts"},"transform":[{"filter":"datum.p==9"}],"mark":{"type":"circle","size":22,"opacity":1},
"encoding":{"x":{"field":"x","type":"quantitative","scale":{"domain":[0,6]},"axis":{"values":[0,1,2,3,4,5,6],"title":"Th2 (%)"}},"y":{"field":"y","type":"quantitative","scale":{"domain":[0,100]},"axis":{"values":[0,20,40,60,80,100],"title":"Relative abundance (%)"}},
"color":{"field":"s","type":"nominal","scale":{"domain":["Firmicutes","Proteobateria","Enterobacteriaceae","Lactobacillaceae","Streptococcaceae","Citrobacter rodentium","Lactobacillus plantarum","Streptococcus pasteuianus"],"range":["#e31e24","#f7a33a","#262f87","#a45a3a","#1a9850","#d6405e","#3f5f4f","#8b5b8e"]},"legend":null}}},
{"data":{"name":"lns"},"transform":[{"filter":"datum.p==9"}],"mark":{"type":"line","strokeWidth":1.5,"clip":true},
"encoding":{"x":{"field":"x","type":"quantitative","scale":{"domain":[0,6]},"axis":{"values":[0,1,2,3,4,5,6],"title":"Th2 (%)"}},"y":{"field":"y","type":"quantitative","scale":{"domain":[0,100]},"axis":{"values":[0,20,40,60,80,100],"title":"Relative abundance (%)"}},
"color":{"field":"s","type":"nominal","scale":{"domain":["Firmicutes","Proteobateria","Enterobacteriaceae","Lactobacillaceae","Streptococcaceae","Citrobacter rodentium","Lactobacillus plantarum","Streptococcus pasteuianus"],"range":["#e31e24","#f7a33a","#262f87","#a45a3a","#1a9850","#d6405e","#3f5f4f","#8b5b8e"]},"legend":null}}}
]},
{"width":155,"height":104,"layer":[
{"data":{"name":"pts"},"transform":[{"filter":"datum.p==10"}],"mark":{"type":"circle","size":22,"opacity":1},
"encoding":{"x":{"field":"x","type":"quantitative","scale":{"domain":[0,6]},"axis":{"values":[0,1,2,3,4,5,6],"title":"Th2 (%)"}},"y":{"field":"y","type":"quantitative","scale":{"domain":[0,100]},"axis":{"values":[0,20,40,60,80,100],"title":null}},
"color":{"field":"s","type":"nominal","scale":{"domain":["Firmicutes","Proteobateria","Enterobacteriaceae","Lactobacillaceae","Streptococcaceae","Citrobacter rodentium","Lactobacillus plantarum","Streptococcus pasteuianus"],"range":["#e31e24","#f7a33a","#262f87","#a45a3a","#1a9850","#d6405e","#3f5f4f","#8b5b8e"]},"legend":null}}},
{"data":{"name":"lns"},"transform":[{"filter":"datum.p==10"}],"mark":{"type":"line","strokeWidth":1.5,"clip":true},
"encoding":{"x":{"field":"x","type":"quantitative","scale":{"domain":[0,6]},"axis":{"values":[0,1,2,3,4,5,6],"title":"Th2 (%)"}},"y":{"field":"y","type":"quantitative","scale":{"domain":[0,100]},"axis":{"values":[0,20,40,60,80,100],"title":null}},
"color":{"field":"s","type":"nominal","scale":{"domain":["Firmicutes","Proteobateria","Enterobacteriaceae","Lactobacillaceae","Streptococcaceae","Citrobacter rodentium","Lactobacillus plantarum","Streptococcus pasteuianus"],"range":["#e31e24","#f7a33a","#262f87","#a45a3a","#1a9850","#d6405e","#3f5f4f","#8b5b8e"]},"legend":null}}}
]},
{"width":155,"height":104,"layer":[
{"data":{"name":"pts"},"transform":[{"filter":"datum.p==11"}],"mark":{"type":"circle","size":22,"opacity":1},
"encoding":{"x":{"field":"x","type":"quantitative","scale":{"domain":[0,30]},"axis":{"values":[0,5,10,15,20,25,30],"title":"Th1/Th7"}},"y":{"field":"y","type":"quantitative","scale":{"domain":[0,100]},"axis":{"values":[0,20,40,60,80,100],"title":null}},
"color":{"field":"s","type":"nominal","scale":{"domain":["Firmicutes","Proteobateria","Enterobacteriaceae","Lactobacillaceae","Streptococcaceae","Citrobacter rodentium","Lactobacillus plantarum","Streptococcus pasteuianus"],"range":["#e31e24","#f7a33a","#262f87","#a45a3a","#1a9850","#d6405e","#3f5f4f","#8b5b8e"]},"legend":null}}},
{"data":{"name":"lns"},"transform":[{"filter":"datum.p==11"}],"mark":{"type":"line","strokeWidth":1.5,"clip":true},
"encoding":{"x":{"field":"x","type":"quantitative","scale":{"domain":[0,30]},"axis":{"values":[0,5,10,15,20,25,30],"title":"Th1/Th7"}},"y":{"field":"y","type":"quantitative","scale":{"domain":[0,100]},"axis":{"values":[0,20,40,60,80,100],"title":null}},
"color":{"field":"s","type":"nominal","scale":{"domain":["Firmicutes","Proteobateria","Enterobacteriaceae","Lactobacillaceae","Streptococcaceae","Citrobacter rodentium","Lactobacillus plantarum","Streptococcus pasteuianus"],"range":["#e31e24","#f7a33a","#262f87","#a45a3a","#1a9850","#d6405e","#3f5f4f","#8b5b8e"]},"legend":null}}}
]}
]
}
